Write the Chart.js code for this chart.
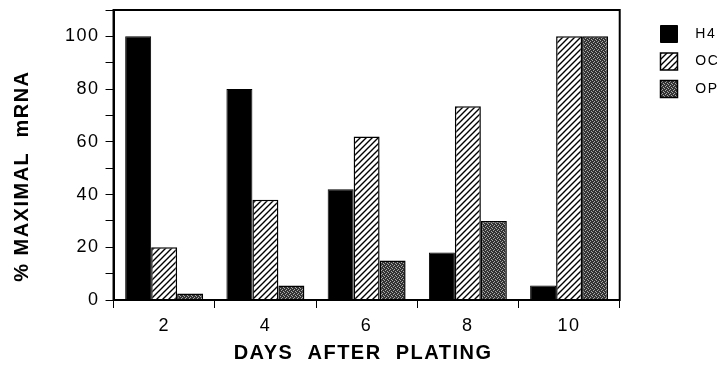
<!DOCTYPE html>
<html lang="en">
<head>
  <meta charset="UTF-8">
  <title>mRNA vs days after plating</title>
  <script src="https://cdn.jsdelivr.net/npm/chart.js"></script>
  <style>
    body { margin: 0; background: #fff; }
    .wrap { position: relative; width: 717px; height: 368px; }
  </style>
</head>
<body>
  <div class="wrap"><canvas id="chart"></canvas></div>

  <script>
    // data
    const days = ['2', '4', '6', '8', '10'];
    const h4 = [100, 80, 42, 18, 5.5];
    const oc = [20, 38, 62, 73.5, 100];
    const op = [2.5, 5.5, 15, 30, 100];

    const ctx = document.getElementById('chart').getContext('2d');

    // diagonal hatch for OC
    function hatch() {
      const c = document.createElement('canvas');
      c.width = c.height = 6;
      const g = c.getContext('2d');
      g.fillStyle = '#fff';
      g.fillRect(0, 0, 6, 6);
      g.strokeStyle = '#000';
      g.lineWidth = 1.4;
      g.beginPath();
      g.moveTo(-1, 7); g.lineTo(7, -1);
      g.moveTo(-4, 4); g.lineTo(4, -4);
      g.moveTo(2, 10); g.lineTo(10, 2);
      g.stroke();
      return ctx.createPattern(c, 'repeat');
    }

    // dark stipple for OP
    function stipple() {
      const c = document.createElement('canvas');
      c.width = c.height = 4;
      const g = c.getContext('2d');
      g.fillStyle = '#333';
      g.fillRect(0, 0, 4, 4);
      g.fillStyle = '#aaa';
      g.fillRect(0, 0, 1, 1);
      g.fillRect(2, 1, 1, 1);
      g.fillRect(1, 2, 1, 1);
      g.fillRect(3, 3, 1, 1);
      return ctx.createPattern(c, 'repeat');
    }

    // wider letter spacing, like the typeset original
    const spacing = {
      id: 'spacing',
      beforeLayout(chart) { chart.ctx.letterSpacing = '1.5px'; },
      beforeDraw(chart) { chart.ctx.letterSpacing = '1.5px'; }
    };

    // push the legend away from the plot
    const legendSpot = {
      id: 'legendSpot',
      afterLayout(chart) {
        const lg = chart.legend;
        lg.left = 650;
        lg.right = chart.width;
        lg.width = lg.right - lg.left;
        lg.top = 15;
      }
    };

    // box round the plot area
    const frame = {
      id: 'frame',
      afterDraw(chart) {
        const a = chart.chartArea, c = chart.ctx;
        c.save();
        c.strokeStyle = '#000';
        c.lineWidth = 2;
        c.strokeRect(a.left, a.top, a.right - a.left, a.bottom - a.top);
        c.restore();
      }
    };

    Chart.defaults.font.family = "'Liberation Sans', Arial, sans-serif";
    Chart.defaults.color = '#000';

    new Chart(ctx, {
      type: 'bar',
      data: {
        labels: days,
        datasets: [
          { label: 'H4', data: h4, backgroundColor: '#000', borderColor: '#000', borderWidth: 1 },
          { label: 'OC', data: oc, backgroundColor: hatch(), borderColor: '#000', borderWidth: 1.5 },
          { label: 'OP', data: op, backgroundColor: stipple(), borderColor: '#000', borderWidth: 1.5 }
        ]
      },
      options: {
        responsive: true,
        maintainAspectRatio: false,
        animation: false,
        datasets: { bar: { categoryPercentage: 0.77, barPercentage: 1 } },
        layout: { padding: { top: 0, right: 18, left: 6, bottom: 0 } },
        plugins: {
          tooltip: { enabled: false },
          legend: {
            position: 'right',
            align: 'start',
            labels: {
              boxWidth: 17,
              boxHeight: 17,
              padding: 10.5,
              font: { size: 14 },
              generateLabels(chart) {
                return Chart.defaults.plugins.legend.labels.generateLabels(chart)
                  .map(l => Object.assign(l, { text: '  ' + l.text }));
              }
            }
          }
        },
        scales: {
          x: {
            afterFit: s => { s.height = 68; },
            grid: { offset: true, drawOnChartArea: false, color: '#000', tickLength: 8 },
            border: { color: '#000', width: 2 },
            ticks: { font: { size: 18 }, padding: 7 },
            title: {
              display: true, text: 'DAYS  AFTER  PLATING ',
              font: { size: 20, weight: 'bold' }, padding: { top: 4, bottom: 3 }
            }
          },
          y: {
            afterFit: s => { s.paddingTop = 10; },
            min: 0,
            max: 110,
            grid: { drawOnChartArea: false, color: '#000', tickLength: 8 },
            border: { color: '#000', width: 2 },
            ticks: {
              stepSize: 10,
              font: { size: 18 },
              padding: 6,
              callback: v => (v % 20 === 0 && v <= 100) ? v : ''
            },
            title: {
              display: true, text: '% MAXIMAL  mRNA      ',
              font: { size: 20, weight: 'bold' }, padding: { top: 4, bottom: 25 }
            }
          }
        }
      },
      plugins: [spacing, legendSpot, frame]
    });
  </script>
</body>
</html>
